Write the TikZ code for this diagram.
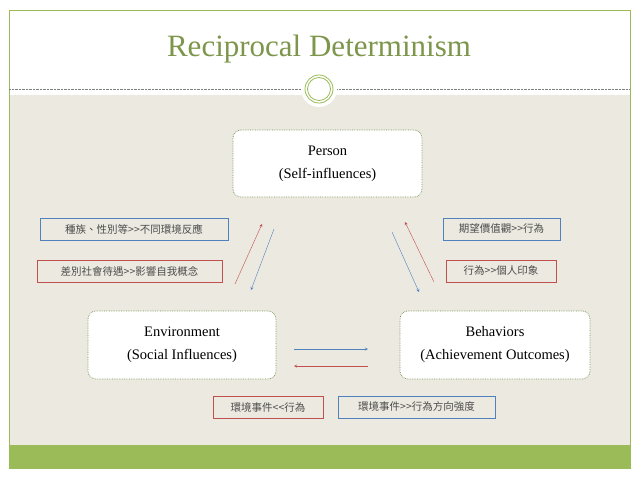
\documentclass[tikz,border=0pt]{standalone}
\usepackage{fontspec}
\setmainfont{Liberation Serif}
\newfontfamily\cjk{Noto Sans CJK TC}
\definecolor{gr}{RGB}{155,187,89}
\definecolor{tg}{RGB}{125,150,75}
\definecolor{bg}{RGB}{236,233,224}
\definecolor{bl}{RGB}{79,129,189}
\definecolor{rd}{RGB}{192,80,77}
\definecolor{bd}{RGB}{120,145,80}
\begin{document}
\begin{tikzpicture}[x=1pt,y=-1pt,
  mainbox/.style={draw=bd, densely dotted, line width=0.7pt, fill=white, rounded corners=8pt, align=center, font=\fontsize{14.5}{23}\selectfont},
  bluelab/.style={draw=bl, inner sep=0pt, font=\cjk\fontsize{10.5}{12}\selectfont, text=black!70},
  redlab/.style={draw=rd, inner sep=0pt, font=\cjk\fontsize{10.5}{12}\selectfont, text=black!70},
  barr/.style={draw=bl, ->, >=stealth},
  rarr/.style={draw=rd, ->, >=stealth}]
\useasboundingbox (0,0) rectangle (638,479);
\fill[white] (0,0) rectangle (638,479);
\fill[bg] (9,95) rectangle (630,445);
\fill[gr] (9,445) rectangle (630,468);
\draw[gr] (9,10) rectangle (630,468);
\draw[densely dotted, gray] (9,89) -- (302,89) (336,89) -- (630,89);
\fill[white] (319,89) circle (18);
\draw[gr, line width=0.8pt] (319,89) circle (14);
\draw[gr, line width=0.8pt] (319,89) circle (11.5);
\node[text=tg, font=\fontsize{31}{34}\selectfont] (title) at (319,49) {Reciprocal Determinism};
\node[mainbox, minimum width=189, minimum height=67] (person) at (327.5,163.5) {Person\\(Self-influences)};
\node[mainbox, minimum width=188, minimum height=68] (env) at (182,345) {Environment\\(Social Influences)};
\node[mainbox, minimum width=190, minimum height=68] (beh) at (495,345) {Behaviors\\(Achievement Outcomes)};
\node[bluelab, minimum width=188, minimum height=22] (l1) at (134,229) {種族、性別等>>不同環境反應};
\node[redlab, minimum width=185, minimum height=22] (l2) at (129.5,271) {差別社會待遇>>影響自我概念};
\node[bluelab, minimum width=117, minimum height=22] (l3) at (501.5,229) {期望價值觀>>行為};
\node[redlab, minimum width=110, minimum height=22] (l4) at (501,271) {行為>>個人印象};
\node[redlab, minimum width=110, minimum height=22] (l5) at (268,407) {環境事件<<行為};
\node[bluelab, minimum width=157, minimum height=22] (l6) at (416.5,407) {環境事件>>行為方向強度};
\coordinate (a1) at (235,284); \coordinate (a2) at (262,224);
\coordinate (b1) at (274,229); \coordinate (b2) at (251,290);
\coordinate (c1) at (392,232); \coordinate (c2) at (419,292);
\coordinate (d1) at (434,282); \coordinate (d2) at (405,222);
\coordinate (e1) at (294,349); \coordinate (e2) at (368,349);
\coordinate (f1) at (368,366); \coordinate (f2) at (294,366);
\draw[rarr] (a1) -- (a2);
\draw[barr] (b1) -- (b2);
\draw[barr] (c1) -- (c2);
\draw[rarr] (d1) -- (d2);
\draw[barr] (e1) -- (e2);
\draw[rarr] (f1) -- (f2);
\end{tikzpicture}
\end{document}
